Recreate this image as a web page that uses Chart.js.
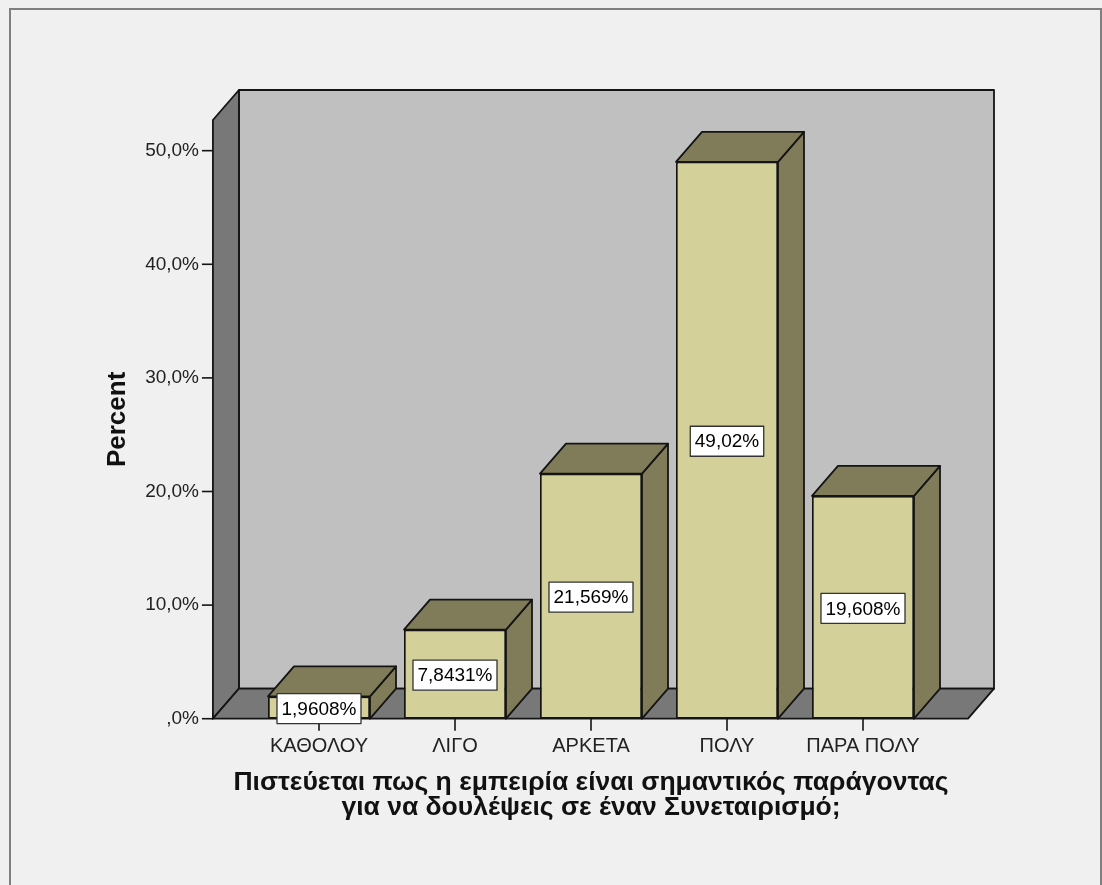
<!DOCTYPE html>
<html>
<head>
<meta charset="utf-8">
<script src="https://cdn.jsdelivr.net/npm/chart.js@4.4.1/dist/chart.umd.min.js"></script>
<style>
  html, body { margin: 0; padding: 0; background: #f0f0f0; }
  canvas { display: block; }
</style>
</head>
<body>
<canvas id="c" width="1102" height="885"></canvas>
<script>
// ---- data ----
const categories = ['ΚΑΘΟΛΟΥ', 'ΛΙΓΟ', 'ΑΡΚΕΤΑ', 'ΠΟΛΥ', 'ΠΑΡΑ ΠΟΛΥ'];
const percentValues = [1.9608, 7.8431, 21.569, 49.02, 19.608];
const valueLabels = ['1,9608%', '7,8431%', '21,569%', '49,02%', '19,608%'];
const yTickValues = [0, 10, 20, 30, 40, 50];
const yTickLabels = [',0%', '10,0%', '20,0%', '30,0%', '40,0%', '50,0%'];
const xTitle = ['Πιστεύεται πως η εμπειρία είναι σημαντικός παράγοντας', 'για να δουλέψεις σε έναν Συνεταιρισμό;'];
const yTitle = 'Percent';

const FONT = '"Liberation Sans", Arial, sans-serif';
const DX = 26, DY = 30;
const FRONT = '#d4d09a', SIDE = '#807c5a', BACKWALL = '#c0c0c0', DARKWALL = '#787878', EDGE = '#141414';

function poly(ctx, pts, fill) {
  ctx.beginPath();
  ctx.moveTo(pts[0][0], pts[0][1]);
  for (let i = 1; i < pts.length; i++) ctx.lineTo(pts[i][0], pts[i][1]);
  ctx.closePath();
  if (fill) { ctx.fillStyle = fill; ctx.fill(); }
  ctx.strokeStyle = EDGE; ctx.lineWidth = 1.8; ctx.lineJoin = 'round';
  ctx.stroke();
}
function seg(ctx, x1, y1, x2, y2, w) {
  ctx.beginPath(); ctx.moveTo(x1, y1); ctx.lineTo(x2, y2);
  ctx.strokeStyle = EDGE; ctx.lineWidth = w || 1.5; ctx.stroke();
}

const spss3d = {
  id: 'spss3d',
  beforeDraw(chart) {
    const ctx = chart.ctx;
    ctx.save();
    ctx.fillStyle = '#f0f0f0';
    ctx.fillRect(0, 0, chart.width, chart.height);
    ctx.strokeStyle = '#7f7f7f'; ctx.lineWidth = 2;
    ctx.strokeRect(10, 9, 1091, 900);
    ctx.restore();
  },
  beforeDatasetsDraw(chart) {
    const { ctx, chartArea, scales: { x, y } } = chart;
    const cw = chartArea.width / categories.length;
    const L = chartArea.left - 0.28 * cw, R = chartArea.right + 0.272 * cw;
    const B = y.getPixelForValue(0), T = y.getPixelForValue(y.max);
    ctx.save();
    poly(ctx, [[L + DX, T - DY], [R + DX, T - DY], [R + DX, B - DY], [L + DX, B - DY]], BACKWALL);
    poly(ctx, [[L, T], [L + DX, T - DY], [L + DX, B - DY], [L, B]], DARKWALL);
    poly(ctx, [[L, B], [R, B], [R + DX, B - DY], [L + DX, B - DY]], DARKWALL);
    y.ticks.forEach(t => { const py = y.getPixelForValue(t.value); seg(ctx, L - 11, py, L, py, 1.6); });
    x.ticks.forEach((t, i) => { const px = x.getPixelForTick(i); seg(ctx, px, B, px, B + 12, 1.6); });
    ctx.restore();
  },
  afterDatasetsDraw(chart) {
    const { ctx } = chart;
    const meta = chart.getDatasetMeta(0);
    ctx.save();
    meta.data.forEach((bar) => {
      const { x, y, base, width } = bar.getProps(['x', 'y', 'base', 'width'], true);
      const l = x - width / 2, r = x + width / 2;
      poly(ctx, [[r, y], [r + DX, y - DY], [r + DX, base - DY], [r, base]], SIDE);
      poly(ctx, [[l, y], [l + DX, y - DY], [r + DX, y - DY], [r, y]], SIDE);
    });
    ctx.font = '19px ' + FONT;
    ctx.textAlign = 'center'; ctx.textBaseline = 'middle';
    meta.data.forEach((bar, i) => {
      const { x, y, base } = bar.getProps(['x', 'y', 'base'], true);
      const cy = (y + base) / 2 + 1;
      const tw = ctx.measureText(valueLabels[i]).width;
      const bw = tw + 9, bh = 30;
      ctx.fillStyle = '#ffffff';
      ctx.fillRect(x - bw / 2, cy - bh / 2, bw, bh);
      ctx.strokeStyle = '#333333'; ctx.lineWidth = 1.3;
      ctx.strokeRect(x - bw / 2, cy - bh / 2, bw, bh);
      ctx.fillStyle = '#000000';
      ctx.fillText(valueLabels[i], x, cy + 1);
    });
    ctx.restore();
  }
};

new Chart(document.getElementById('c'), {
  type: 'bar',
  data: {
    labels: categories,
    datasets: [{
      data: percentValues,
      yAxisID: 'y',
      backgroundColor: FRONT,
      borderColor: EDGE,
      borderWidth: 1.8,
      borderSkipped: false,
      categoryPercentage: 1.0,
      barPercentage: 0.75
    }]
  },
  options: {
    responsive: false,
    animation: false,
    layout: { padding: { left: 80, right: 0, top: 120, bottom: 0 } },
    plugins: {
      legend: { display: false },
      tooltip: { enabled: false },
      title: {
        display: true, position: 'bottom', align: 'center', fullSize: true,
        text: xTitle, color: '#111',
        font: { family: FONT, size: 26.5, weight: 'bold', lineHeight: 0.93 },
        padding: { top: 0, bottom: 65 }
      }
    },
    scales: {
      x: {
        grid: { display: false, drawTicks: false },
        border: { display: false },
        ticks: { color: '#222', font: { family: FONT, size: 20 }, padding: 16, maxRotation: 0 },
        afterFit(scale) { scale.height = 52; }
      },
      y: {
        min: 0,
        max: 52.7,
        grid: { display: false, drawTicks: false },
        border: { display: false },
        afterBuildTicks(scale) { scale.ticks = yTickValues.map(v => ({ value: v })); },
        ticks: {
          color: '#222', font: { family: FONT, size: 19 }, padding: 52,
          callback: (v) => yTickLabels[yTickValues.indexOf(v)]
        },
        title: { display: true, text: yTitle, color: '#111', font: { family: FONT, size: 26, weight: 'bold', lineHeight: 1.2 }, padding: { top: 22, bottom: 0 } },
        afterFit(scale) { scale.width = 171; }
      },
      yRightSpace: {
        position: 'right',
        display: true,
        grid: { display: false, drawTicks: false },
        border: { display: false },
        ticks: { display: false },
        afterFit(scale) { scale.width = 171; }
      }
    }
  },
  plugins: [spss3d]
});
</script>
</body>
</html>
